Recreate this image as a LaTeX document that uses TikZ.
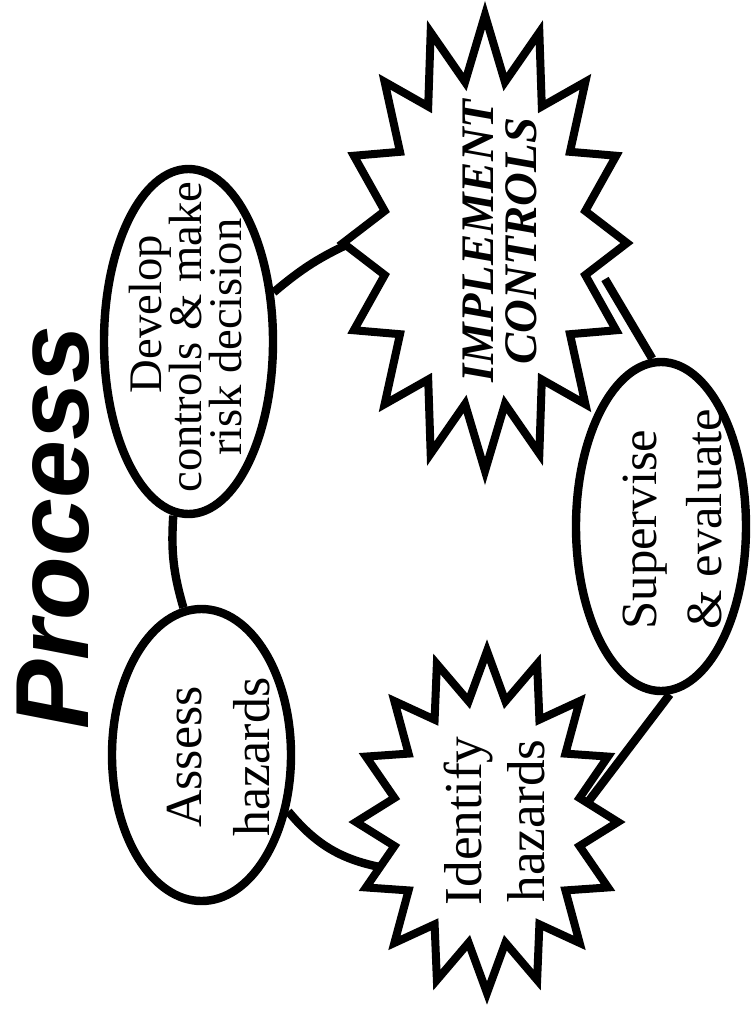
\documentclass[tikz,border=0pt]{standalone}
\usepackage{fontspec}
\setmainfont{Liberation Serif}
\newfontfamily\titlefont{Liberation Sans}
\usetikzlibrary{shapes.geometric}
\newcommand{\mystar}[3]{%
  \draw[burstline, shift={(#1)}] (0,-#3)
    \foreach \k [evaluate=\k as \rr using {ifthenelse(mod(\k,2)==0,1,0.72)}] in {1,...,31}
      { -- ({\rr*#2*sin(\k*11.25)},{-\rr*#3*cos(\k*11.25)}) } -- cycle;}
\begin{document}
\begin{tikzpicture}[x=0.75pt,y=-0.75pt,
  oval/.style={draw, ellipse, line width=6.3pt, fill=white, inner sep=0pt},
  conn/.style={line width=6.3pt},
  burstline/.style={draw, fill=white, line width=6pt, line join=miter},
  txt/.style={rotate=90, align=center, inner sep=0pt}]
\useasboundingbox (0,0) rectangle (756,1017);

% ellipses
\node[oval, minimum width=126.75pt, minimum height=258.75pt] (dev) at (188.5,341.5) {};
\node[oval, minimum width=134.25pt, minimum height=219pt] (assess) at (201.5,755) {};
\node[oval, minimum width=127.5pt, minimum height=246.75pt] (sup) at (661,526.5) {};

% starburst centres and contact points
\coordinate (impl) at (485,243);
\coordinate (ident) at (487,822);
\coordinate (implW) at (355,241);
\coordinate (implSE) at (605,279);
\coordinate (identW) at (385,868);
\coordinate (identNE) at (585,806);

% connectors
\draw[conn] (dev.265) to[bend right=10] (assess.97);
\draw[conn] (dev.30) to[bend left=8] (implW);
\draw[conn] (assess.-33) to[bend right=20] (identW);
\draw[conn] (identNE) -- (sup.-87);
\draw[conn] (sup.93) -- (implSE);

% starbursts
\mystar{impl}{142}{228}
\mystar{ident}{131}{171}

% texts
\node[rotate=90, anchor=base, inner sep=0pt,
      font={\titlefont\fontsize{78}{90}\selectfont\bfseries\itshape}] (title) at (88,527.5) {Process};
\node[txt, font={\fontsize{35}{30}\selectfont\lineskiplimit=-50pt}] (devtxt) at (186,337)
  {\hspace*{34pt}Develop\\controls \& make\\risk decision};
\node[txt, font={\fontsize{39}{51}\selectfont}] (asstxt) at (218.5,757) {Assess\\hazards};
\node[txt, font={\fontsize{40}{47.25}\selectfont}] (idtxt) at (494.5,821) {Identify\\hazards};
\node[txt, align=left, font={\fontsize{38}{48.75}\selectfont}] (suptxt) at (672.5,519) {Supervise\\\& evaluate};
\node[txt, font={\fontsize{35}{32.25}\selectfont\bfseries\itshape}] (impltxt) at (499.5,241) {IMPLEMENT\\CONTROLS};
\end{tikzpicture}
\end{document}
